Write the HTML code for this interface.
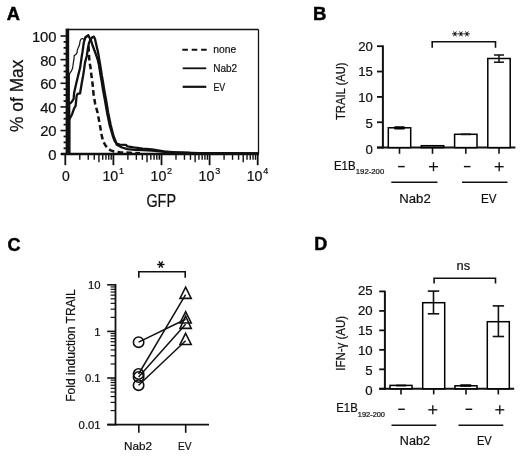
<!DOCTYPE html>
<html><head><meta charset="utf-8"><style>
html,body{margin:0;padding:0;background:#fff;width:520px;height:456px;overflow:hidden}
svg{display:block;will-change:transform}
text{font-family:"Liberation Sans", sans-serif;fill:#111;stroke:#111;stroke-width:0.22px}
line,polyline,polygon,circle{stroke:#111}
</style></head><body>
<svg width="520" height="456" viewBox="0 0 520 456">
<text x="6.80" y="19.60" font-size="17.5" text-anchor="start" font-weight="bold" textLength="13.2" lengthAdjust="spacingAndGlyphs"  style="stroke:#000;stroke-width:0.45px;fill:#000">A</text>
<line x1="67.50" y1="29.50" x2="258.50" y2="29.50" stroke-width="1.3" />
<line x1="258.50" y1="29.50" x2="258.50" y2="154.00" stroke-width="1.3" />
<line x1="67.40" y1="28.60" x2="67.40" y2="155.00" stroke-width="3.6" />
<line x1="61.00" y1="154.00" x2="259.00" y2="154.00" stroke-width="2.4" />
<line x1="60.50" y1="154.20" x2="67.50" y2="154.20" stroke-width="1.6" />
<text x="56.60" y="160.10" font-size="14.8" text-anchor="end" font-weight="normal" >0</text>
<line x1="60.50" y1="130.56" x2="67.50" y2="130.56" stroke-width="1.6" />
<text x="56.60" y="136.46" font-size="14.8" text-anchor="end" font-weight="normal" >20</text>
<line x1="60.50" y1="106.92" x2="67.50" y2="106.92" stroke-width="1.6" />
<text x="56.60" y="112.82" font-size="14.8" text-anchor="end" font-weight="normal" >40</text>
<line x1="60.50" y1="83.28" x2="67.50" y2="83.28" stroke-width="1.6" />
<text x="56.60" y="89.18" font-size="14.8" text-anchor="end" font-weight="normal" >60</text>
<line x1="60.50" y1="59.64" x2="67.50" y2="59.64" stroke-width="1.6" />
<text x="56.60" y="65.54" font-size="14.8" text-anchor="end" font-weight="normal" >80</text>
<line x1="60.50" y1="36.00" x2="67.50" y2="36.00" stroke-width="1.6" />
<text x="56.60" y="41.90" font-size="14.8" text-anchor="end" font-weight="normal" >100</text>
<line x1="63.60" y1="148.29" x2="67.50" y2="148.29" stroke-width="1.8" />
<line x1="63.60" y1="142.38" x2="67.50" y2="142.38" stroke-width="1.8" />
<line x1="63.60" y1="136.47" x2="67.50" y2="136.47" stroke-width="1.8" />
<line x1="63.60" y1="124.65" x2="67.50" y2="124.65" stroke-width="1.8" />
<line x1="63.60" y1="118.74" x2="67.50" y2="118.74" stroke-width="1.8" />
<line x1="63.60" y1="112.83" x2="67.50" y2="112.83" stroke-width="1.8" />
<line x1="63.60" y1="101.01" x2="67.50" y2="101.01" stroke-width="1.8" />
<line x1="63.60" y1="95.10" x2="67.50" y2="95.10" stroke-width="1.8" />
<line x1="63.60" y1="89.19" x2="67.50" y2="89.19" stroke-width="1.8" />
<line x1="63.60" y1="77.37" x2="67.50" y2="77.37" stroke-width="1.8" />
<line x1="63.60" y1="71.46" x2="67.50" y2="71.46" stroke-width="1.8" />
<line x1="63.60" y1="65.55" x2="67.50" y2="65.55" stroke-width="1.8" />
<line x1="63.60" y1="53.73" x2="67.50" y2="53.73" stroke-width="1.8" />
<line x1="63.60" y1="47.82" x2="67.50" y2="47.82" stroke-width="1.8" />
<line x1="63.60" y1="41.91" x2="67.50" y2="41.91" stroke-width="1.8" />
<line x1="65.30" y1="154.00" x2="65.30" y2="165.20" stroke-width="1.8" />
<line x1="79.78" y1="154.00" x2="79.78" y2="159.80" stroke-width="1.4" />
<line x1="88.25" y1="154.00" x2="88.25" y2="159.80" stroke-width="1.4" />
<line x1="94.26" y1="154.00" x2="94.26" y2="159.80" stroke-width="1.4" />
<line x1="98.92" y1="154.00" x2="98.92" y2="162.30" stroke-width="1.4" />
<line x1="102.73" y1="154.00" x2="102.73" y2="159.80" stroke-width="1.4" />
<line x1="105.95" y1="154.00" x2="105.95" y2="159.80" stroke-width="1.4" />
<line x1="108.74" y1="154.00" x2="108.74" y2="159.80" stroke-width="1.4" />
<line x1="111.20" y1="154.00" x2="111.20" y2="159.80" stroke-width="1.4" />
<line x1="113.40" y1="154.00" x2="113.40" y2="165.20" stroke-width="1.8" />
<line x1="127.88" y1="154.00" x2="127.88" y2="159.80" stroke-width="1.4" />
<line x1="136.35" y1="154.00" x2="136.35" y2="159.80" stroke-width="1.4" />
<line x1="142.36" y1="154.00" x2="142.36" y2="159.80" stroke-width="1.4" />
<line x1="147.02" y1="154.00" x2="147.02" y2="162.30" stroke-width="1.4" />
<line x1="150.83" y1="154.00" x2="150.83" y2="159.80" stroke-width="1.4" />
<line x1="154.05" y1="154.00" x2="154.05" y2="159.80" stroke-width="1.4" />
<line x1="156.84" y1="154.00" x2="156.84" y2="159.80" stroke-width="1.4" />
<line x1="159.30" y1="154.00" x2="159.30" y2="159.80" stroke-width="1.4" />
<line x1="161.50" y1="154.00" x2="161.50" y2="165.20" stroke-width="1.8" />
<line x1="175.98" y1="154.00" x2="175.98" y2="159.80" stroke-width="1.4" />
<line x1="184.45" y1="154.00" x2="184.45" y2="159.80" stroke-width="1.4" />
<line x1="190.46" y1="154.00" x2="190.46" y2="159.80" stroke-width="1.4" />
<line x1="195.12" y1="154.00" x2="195.12" y2="162.30" stroke-width="1.4" />
<line x1="198.93" y1="154.00" x2="198.93" y2="159.80" stroke-width="1.4" />
<line x1="202.15" y1="154.00" x2="202.15" y2="159.80" stroke-width="1.4" />
<line x1="204.94" y1="154.00" x2="204.94" y2="159.80" stroke-width="1.4" />
<line x1="207.40" y1="154.00" x2="207.40" y2="159.80" stroke-width="1.4" />
<line x1="209.60" y1="154.00" x2="209.60" y2="165.20" stroke-width="1.8" />
<line x1="224.08" y1="154.00" x2="224.08" y2="159.80" stroke-width="1.4" />
<line x1="232.55" y1="154.00" x2="232.55" y2="159.80" stroke-width="1.4" />
<line x1="238.56" y1="154.00" x2="238.56" y2="159.80" stroke-width="1.4" />
<line x1="243.22" y1="154.00" x2="243.22" y2="162.30" stroke-width="1.4" />
<line x1="247.03" y1="154.00" x2="247.03" y2="159.80" stroke-width="1.4" />
<line x1="250.25" y1="154.00" x2="250.25" y2="159.80" stroke-width="1.4" />
<line x1="253.04" y1="154.00" x2="253.04" y2="159.80" stroke-width="1.4" />
<line x1="255.50" y1="154.00" x2="255.50" y2="159.80" stroke-width="1.4" />
<line x1="257.70" y1="154.00" x2="257.70" y2="165.20" stroke-width="1.8" />
<text x="65.80" y="180.80" font-size="14" text-anchor="middle" font-weight="normal" >0</text>
<text x="102.40" y="181.00" font-size="14.2" text-anchor="start" font-weight="normal" >10</text>
<text x="119.00" y="173.60" font-size="9" text-anchor="start" font-weight="normal" >1</text>
<text x="150.50" y="181.00" font-size="14.2" text-anchor="start" font-weight="normal" >10</text>
<text x="167.10" y="173.60" font-size="9" text-anchor="start" font-weight="normal" >2</text>
<text x="198.60" y="181.00" font-size="14.2" text-anchor="start" font-weight="normal" >10</text>
<text x="215.20" y="173.60" font-size="9" text-anchor="start" font-weight="normal" >3</text>
<text x="246.70" y="181.00" font-size="14.2" text-anchor="start" font-weight="normal" >10</text>
<text x="263.30" y="173.60" font-size="9" text-anchor="start" font-weight="normal" >4</text>
<text x="146.40" y="207.40" font-size="18" text-anchor="start" font-weight="normal" textLength="29.6" lengthAdjust="spacingAndGlyphs" >GFP</text>
<text x="0" y="0" font-size="17.5" transform="translate(22.6,132.0) rotate(-90)" textLength="72.5" lengthAdjust="spacingAndGlyphs">% of Max</text>
<line x1="182.30" y1="49.80" x2="206.90" y2="49.80" stroke-width="2.0" stroke-dasharray="5.6 3.8"/>
<line x1="182.70" y1="68.30" x2="206.30" y2="68.30" stroke-width="1.8" />
<line x1="182.70" y1="86.80" x2="206.30" y2="86.80" stroke-width="2.2" />
<text x="213.20" y="52.90" font-size="11.5" text-anchor="start" font-weight="normal" textLength="23" lengthAdjust="spacingAndGlyphs" >none</text>
<text x="213.20" y="72.20" font-size="11.5" text-anchor="start" font-weight="normal" textLength="24" lengthAdjust="spacingAndGlyphs" >Nab2</text>
<text x="213.40" y="90.80" font-size="11.5" text-anchor="start" font-weight="normal" textLength="11.8" lengthAdjust="spacingAndGlyphs" >EV</text>
<polyline points="69.3,153.5 69.3,75.5 69.6,74.0 70.0,72.8 71.5,70.8 72.6,68.3 73.1,64.3 73.6,61.2 74.1,58.2 74.1,55.7 76.1,54.2 77.1,52.7 77.3,50.1 78.1,48.1 79.1,46.1 79.6,44.1 80.1,41.1 81.1,39.0 82.6,38.5 84.2,39.5 85.7,38.0 87.2,36.5 88.5,35.5 91.2,41.0 92.6,45.5 95.6,53.5 97.8,60.0 100.0,72.0 102.0,82.0" fill="none" stroke-width="1.2" stroke-linejoin="round" />
<polyline points="69.2,153.5 69.2,104.2 70.3,102.9 71.1,102.6 73.6,99.1 74.1,93.1 76.1,84.0 78.1,75.7 80.1,67.8 81.8,56.0 82.5,52.0 83.8,42.5 85.4,37.3 88.3,35.2 91.2,41.0 92.6,45.5 95.6,53.5 97.8,60.0 99.0,65.0 100.6,75.3 101.8,82.0 103.0,89.8 104.9,100.0 107.0,112.3 109.5,124.6 112.8,136.0 114.5,140.5 116.6,143.7 119.7,144.6 125.8,144.8 127.4,146.4 133.5,147.4 142.8,148.7 152.0,149.5 163.8,151.3 175.0,152.4 200.0,153.1 258.0,153.4" fill="none" stroke-width="2.3" stroke-linejoin="round" />
<polyline points="69.2,153.5 69.2,120.5 69.5,119.1 70.0,118.3 72.1,114.2 74.1,108.4 75.6,106.0 76.6,96.1 77.5,93.8 80.1,93.3 81.6,84.0 83.1,75.7 84.0,70.0 85.0,62.6 86.8,56.0 87.8,49.0 89.0,43.0 90.5,39.5 92.3,37.2 93.8,36.6 95.0,39.0 96.4,45.2 98.0,52.0 100.2,65.0 101.8,75.3 103.0,82.0 104.2,89.8 106.1,100.0 108.1,112.3 110.6,124.6 113.5,136.0 115.5,141.0 116.8,144.8 122.0,147.5 127.4,149.1 135.0,149.8 142.8,150.2 152.0,150.6 165.0,151.8 190.0,153.0 258.0,153.4" fill="none" stroke-width="2.3" stroke-linejoin="round" />
<polyline points="88.5,45.0 89.0,55.0 89.5,62.6 90.1,65.0 90.7,69.0 91.4,75.0 92.1,80.0 92.7,85.0 93.6,94.6 95.2,104.0 97.5,112.3 99.8,124.6 102.0,136.9 103.5,142.0 105.5,145.5 108.0,148.5 110.7,150.4 114.0,151.5 120.0,152.2 130.0,152.8 140.0,153.2" fill="none" stroke-width="2.5" stroke-linejoin="round" stroke-dasharray="5.6 3.3" stroke-dashoffset="-1"/>
<text x="313.00" y="20.40" font-size="17.5" text-anchor="start" font-weight="bold" textLength="13.4" lengthAdjust="spacingAndGlyphs"  style="stroke:#000;stroke-width:0.45px;fill:#000">B</text>
<line x1="382.90" y1="45.40" x2="382.90" y2="148.50" stroke-width="2.0" />
<line x1="377.00" y1="147.60" x2="515.40" y2="147.60" stroke-width="2.0" />
<line x1="377.00" y1="147.60" x2="382.90" y2="147.60" stroke-width="1.8" />
<text x="372.90" y="153.65" font-size="13.2" text-anchor="end" font-weight="normal" >0</text>
<line x1="377.00" y1="122.25" x2="382.90" y2="122.25" stroke-width="1.8" />
<text x="372.90" y="128.45" font-size="13.2" text-anchor="end" font-weight="normal" >5</text>
<line x1="377.00" y1="96.90" x2="382.90" y2="96.90" stroke-width="1.8" />
<text x="372.90" y="102.05" font-size="13.2" text-anchor="end" font-weight="normal" >10</text>
<line x1="377.00" y1="71.55" x2="382.90" y2="71.55" stroke-width="1.8" />
<text x="372.90" y="76.35" font-size="13.2" text-anchor="end" font-weight="normal" >15</text>
<line x1="377.00" y1="46.20" x2="382.90" y2="46.20" stroke-width="1.8" />
<text x="372.90" y="50.75" font-size="13.2" text-anchor="end" font-weight="normal" >20</text>
<text x="0" y="0" font-size="12" transform="translate(345.1,120.0) rotate(-90)" textLength="57.6" lengthAdjust="spacingAndGlyphs">TRAIL (AU)</text>
<rect x="388.30" y="127.80" width="22.4" height="19.80" fill="#fff" stroke="#000" stroke-width="1.5"/>
<line x1="399.50" y1="147.60" x2="399.50" y2="153.80" stroke-width="1.6" />
<rect x="421.30" y="145.70" width="22.4" height="1.90" fill="#999" stroke="#000" stroke-width="1.5"/>
<line x1="432.50" y1="147.60" x2="432.50" y2="153.80" stroke-width="1.6" />
<rect x="454.60" y="134.30" width="22.4" height="13.30" fill="#fff" stroke="#000" stroke-width="1.5"/>
<line x1="465.80" y1="147.60" x2="465.80" y2="153.80" stroke-width="1.6" />
<rect x="487.80" y="58.50" width="22.4" height="89.10" fill="#fff" stroke="#000" stroke-width="1.5"/>
<line x1="499.00" y1="147.60" x2="499.00" y2="153.80" stroke-width="1.6" />
<rect x="394" y="126.3" width="11" height="3.2" rx="1.2" fill="#000"/>
<line x1="499.00" y1="55.00" x2="499.00" y2="62.20" stroke-width="1.5" />
<line x1="494.00" y1="55.00" x2="504.00" y2="55.00" stroke-width="1.5" />
<line x1="494.00" y1="62.20" x2="504.00" y2="62.20" stroke-width="1.5" />
<line x1="460.80" y1="134.30" x2="470.80" y2="134.30" stroke-width="1.8" />
<polyline points="432.2,47.7 432.2,41.8 495.5,41.8 495.5,47.7" fill="none" stroke-width="1.6"/>
<line x1="452.10" y1="33.90" x2="457.70" y2="33.90" stroke-width="1.0" />
<line x1="453.50" y1="31.48" x2="456.30" y2="36.32" stroke-width="1.0" />
<line x1="456.30" y1="31.48" x2="453.50" y2="36.32" stroke-width="1.0" />
<line x1="458.10" y1="33.90" x2="463.70" y2="33.90" stroke-width="1.0" />
<line x1="459.50" y1="31.48" x2="462.30" y2="36.32" stroke-width="1.0" />
<line x1="462.30" y1="31.48" x2="459.50" y2="36.32" stroke-width="1.0" />
<line x1="464.10" y1="33.90" x2="469.70" y2="33.90" stroke-width="1.0" />
<line x1="465.50" y1="31.48" x2="468.30" y2="36.32" stroke-width="1.0" />
<line x1="468.30" y1="31.48" x2="465.50" y2="36.32" stroke-width="1.0" />
<line x1="398.10" y1="166.60" x2="404.70" y2="166.60" stroke-width="1.45" />
<line x1="463.90" y1="166.60" x2="470.50" y2="166.60" stroke-width="1.45" />
<line x1="429.00" y1="166.70" x2="438.00" y2="166.70" stroke-width="1.35" />
<line x1="433.50" y1="162.20" x2="433.50" y2="171.20" stroke-width="1.35" />
<line x1="494.70" y1="166.70" x2="503.70" y2="166.70" stroke-width="1.35" />
<line x1="499.20" y1="162.20" x2="499.20" y2="171.20" stroke-width="1.35" />
<text x="334.00" y="169.70" font-size="12" text-anchor="start" font-weight="normal" textLength="21.6" lengthAdjust="spacingAndGlyphs" >E1B</text>
<text x="355.80" y="174.40" font-size="7.7" text-anchor="start" font-weight="normal" textLength="28.4" lengthAdjust="spacingAndGlyphs" >192-200</text>
<line x1="391.30" y1="182.20" x2="437.50" y2="182.20" stroke-width="1.6" />
<line x1="462.00" y1="182.20" x2="507.50" y2="182.20" stroke-width="1.6" />
<text x="399.30" y="203.00" font-size="13.2" text-anchor="start" font-weight="normal" textLength="31.4" lengthAdjust="spacingAndGlyphs" >Nab2</text>
<text x="481.00" y="203.00" font-size="13.2" text-anchor="start" font-weight="normal" textLength="15.5" lengthAdjust="spacingAndGlyphs" >EV</text>
<text x="7.60" y="250.50" font-size="17.5" text-anchor="start" font-weight="bold" textLength="13.0" lengthAdjust="spacingAndGlyphs"  style="stroke:#000;stroke-width:0.45px;fill:#000">C</text>
<line x1="115.50" y1="284.00" x2="115.50" y2="425.50" stroke-width="1.8" />
<line x1="107.20" y1="424.70" x2="209.00" y2="424.70" stroke-width="1.8" />
<line x1="107.20" y1="424.60" x2="115.50" y2="424.60" stroke-width="1.6" />
<text x="100.60" y="428.70" font-size="11.3" text-anchor="end" font-weight="normal" >0.01</text>
<line x1="110.60" y1="410.57" x2="115.50" y2="410.57" stroke-width="1.2" />
<line x1="110.60" y1="402.37" x2="115.50" y2="402.37" stroke-width="1.2" />
<line x1="110.60" y1="396.54" x2="115.50" y2="396.54" stroke-width="1.2" />
<line x1="110.60" y1="392.03" x2="115.50" y2="392.03" stroke-width="1.2" />
<line x1="110.60" y1="388.34" x2="115.50" y2="388.34" stroke-width="1.2" />
<line x1="110.60" y1="385.22" x2="115.50" y2="385.22" stroke-width="1.2" />
<line x1="110.60" y1="382.52" x2="115.50" y2="382.52" stroke-width="1.2" />
<line x1="110.60" y1="380.13" x2="115.50" y2="380.13" stroke-width="1.2" />
<line x1="107.20" y1="378.00" x2="115.50" y2="378.00" stroke-width="1.6" />
<text x="100.60" y="382.10" font-size="11.3" text-anchor="end" font-weight="normal" >0.1</text>
<line x1="110.60" y1="363.97" x2="115.50" y2="363.97" stroke-width="1.2" />
<line x1="110.60" y1="355.77" x2="115.50" y2="355.77" stroke-width="1.2" />
<line x1="110.60" y1="349.94" x2="115.50" y2="349.94" stroke-width="1.2" />
<line x1="110.60" y1="345.43" x2="115.50" y2="345.43" stroke-width="1.2" />
<line x1="110.60" y1="341.74" x2="115.50" y2="341.74" stroke-width="1.2" />
<line x1="110.60" y1="338.62" x2="115.50" y2="338.62" stroke-width="1.2" />
<line x1="110.60" y1="335.92" x2="115.50" y2="335.92" stroke-width="1.2" />
<line x1="110.60" y1="333.53" x2="115.50" y2="333.53" stroke-width="1.2" />
<line x1="107.20" y1="331.40" x2="115.50" y2="331.40" stroke-width="1.6" />
<text x="100.60" y="335.50" font-size="11.3" text-anchor="end" font-weight="normal" >1</text>
<line x1="110.60" y1="317.37" x2="115.50" y2="317.37" stroke-width="1.2" />
<line x1="110.60" y1="309.17" x2="115.50" y2="309.17" stroke-width="1.2" />
<line x1="110.60" y1="303.34" x2="115.50" y2="303.34" stroke-width="1.2" />
<line x1="110.60" y1="298.83" x2="115.50" y2="298.83" stroke-width="1.2" />
<line x1="110.60" y1="295.14" x2="115.50" y2="295.14" stroke-width="1.2" />
<line x1="110.60" y1="292.02" x2="115.50" y2="292.02" stroke-width="1.2" />
<line x1="110.60" y1="289.32" x2="115.50" y2="289.32" stroke-width="1.2" />
<line x1="110.60" y1="286.93" x2="115.50" y2="286.93" stroke-width="1.2" />
<line x1="107.20" y1="284.80" x2="115.50" y2="284.80" stroke-width="1.6" />
<text x="100.60" y="288.90" font-size="11.3" text-anchor="end" font-weight="normal" >10</text>
<text x="0" y="0" font-size="12" transform="translate(74.8,401.8) rotate(-90)" textLength="112.6" lengthAdjust="spacingAndGlyphs">Fold induction TRAIL</text>
<line x1="138.80" y1="424.70" x2="138.80" y2="432.80" stroke-width="1.6" />
<line x1="185.70" y1="424.70" x2="185.70" y2="432.80" stroke-width="1.6" />
<text x="124.00" y="450.30" font-size="11.8" text-anchor="start" font-weight="normal" textLength="28" lengthAdjust="spacingAndGlyphs" >Nab2</text>
<text x="178.00" y="450.30" font-size="11.8" text-anchor="start" font-weight="normal" textLength="13.6" lengthAdjust="spacingAndGlyphs" >EV</text>
<polyline points="138.8,277.7 138.8,271.8 185.2,271.8 185.2,277.7" fill="none" stroke-width="1.6"/>
<line x1="157.10" y1="264.50" x2="164.50" y2="264.50" stroke-width="1.4" />
<line x1="158.95" y1="261.30" x2="162.65" y2="267.70" stroke-width="1.4" />
<line x1="162.65" y1="261.30" x2="158.95" y2="267.70" stroke-width="1.4" />
<line x1="138.60" y1="342.20" x2="185.60" y2="319.23" stroke-width="1.5" />
<line x1="138.60" y1="374.00" x2="185.60" y2="294.67" stroke-width="1.5" />
<line x1="138.60" y1="377.00" x2="185.60" y2="324.27" stroke-width="1.5" />
<line x1="138.60" y1="385.20" x2="185.60" y2="340.77" stroke-width="1.5" />
<circle cx="138.6" cy="342.2" r="5.2" fill="none" stroke-width="1.6"/>
<circle cx="138.6" cy="374.0" r="5.2" fill="none" stroke-width="1.6"/>
<circle cx="138.6" cy="377.0" r="5.2" fill="none" stroke-width="1.6"/>
<circle cx="138.6" cy="385.2" r="5.2" fill="none" stroke-width="1.6"/>
<polygon points="185.6,311.7 191.2,323.0 180.0,323.0" fill="none" stroke-width="1.6" stroke-linejoin="miter"/>
<polygon points="185.6,287.2 191.2,298.4 180.0,298.4" fill="none" stroke-width="1.6" stroke-linejoin="miter"/>
<polygon points="185.6,316.0 191.2,328.4 180.0,328.4" fill="none" stroke-width="1.6" stroke-linejoin="miter"/>
<polygon points="185.6,333.3 191.2,344.5 180.0,344.5" fill="none" stroke-width="1.6" stroke-linejoin="miter"/>
<text x="314.20" y="250.40" font-size="17.5" text-anchor="start" font-weight="bold" textLength="13.0" lengthAdjust="spacingAndGlyphs"  style="stroke:#000;stroke-width:0.45px;fill:#000">D</text>
<line x1="384.90" y1="290.80" x2="384.90" y2="389.80" stroke-width="2.0" />
<line x1="379.20" y1="388.80" x2="514.20" y2="388.80" stroke-width="2.0" />
<line x1="379.20" y1="388.80" x2="384.90" y2="388.80" stroke-width="1.8" />
<text x="372.70" y="394.60" font-size="13.2" text-anchor="end" font-weight="normal" >0</text>
<line x1="379.20" y1="369.32" x2="384.90" y2="369.32" stroke-width="1.8" />
<text x="372.70" y="374.90" font-size="13.2" text-anchor="end" font-weight="normal" >5</text>
<line x1="379.20" y1="349.84" x2="384.90" y2="349.84" stroke-width="1.8" />
<text x="372.70" y="354.90" font-size="13.2" text-anchor="end" font-weight="normal" >10</text>
<line x1="379.20" y1="330.36" x2="384.90" y2="330.36" stroke-width="1.8" />
<text x="372.70" y="334.90" font-size="13.2" text-anchor="end" font-weight="normal" >15</text>
<line x1="379.20" y1="310.88" x2="384.90" y2="310.88" stroke-width="1.8" />
<text x="372.70" y="314.90" font-size="13.2" text-anchor="end" font-weight="normal" >20</text>
<line x1="379.20" y1="291.40" x2="384.90" y2="291.40" stroke-width="1.8" />
<text x="372.70" y="294.50" font-size="13.2" text-anchor="end" font-weight="normal" >25</text>
<text x="0" y="0" font-size="12" transform="translate(345.2,370.8) rotate(-90)" textLength="55" lengthAdjust="spacingAndGlyphs">IFN-γ (AU)</text>
<rect x="390.00" y="385.40" width="22" height="3.40" fill="#fff" stroke="#000" stroke-width="1.5"/>
<line x1="401.00" y1="388.80" x2="401.00" y2="394.40" stroke-width="1.6" />
<rect x="422.70" y="302.70" width="22" height="86.10" fill="#fff" stroke="#000" stroke-width="1.5"/>
<line x1="433.70" y1="388.80" x2="433.70" y2="394.40" stroke-width="1.6" />
<rect x="455.00" y="385.80" width="22" height="3.00" fill="#fff" stroke="#000" stroke-width="1.5"/>
<line x1="466.00" y1="388.80" x2="466.00" y2="394.40" stroke-width="1.6" />
<rect x="487.30" y="321.70" width="22" height="67.10" fill="#fff" stroke="#000" stroke-width="1.5"/>
<line x1="498.30" y1="388.80" x2="498.30" y2="394.40" stroke-width="1.6" />
<line x1="433.50" y1="291.10" x2="433.50" y2="313.80" stroke-width="1.6" />
<line x1="427.80" y1="291.10" x2="439.20" y2="291.10" stroke-width="1.6" />
<line x1="427.80" y1="313.80" x2="439.20" y2="313.80" stroke-width="1.6" />
<line x1="498.40" y1="305.90" x2="498.40" y2="336.50" stroke-width="1.6" />
<line x1="492.70" y1="305.90" x2="504.10" y2="305.90" stroke-width="1.6" />
<line x1="492.70" y1="336.50" x2="504.10" y2="336.50" stroke-width="1.6" />
<rect x="396" y="384.6" width="10" height="1.8" fill="#000"/>
<rect x="460" y="384.2" width="11.5" height="2.6" rx="1" fill="#000"/>
<polyline points="434.1,283.6 434.1,278.3 495.5,278.3 495.5,283.6" fill="none" stroke-width="1.6"/>
<text x="463.30" y="270.40" font-size="12.8" text-anchor="middle" font-weight="normal" >ns</text>
<line x1="398.20" y1="409.30" x2="404.80" y2="409.30" stroke-width="1.45" />
<line x1="465.60" y1="409.30" x2="472.20" y2="409.30" stroke-width="1.45" />
<line x1="428.30" y1="409.80" x2="437.30" y2="409.80" stroke-width="1.35" />
<line x1="432.80" y1="405.30" x2="432.80" y2="414.30" stroke-width="1.35" />
<line x1="495.30" y1="409.80" x2="504.30" y2="409.80" stroke-width="1.35" />
<line x1="499.80" y1="405.30" x2="499.80" y2="414.30" stroke-width="1.35" />
<text x="336.30" y="412.30" font-size="12.2" text-anchor="start" font-weight="normal" textLength="21.4" lengthAdjust="spacingAndGlyphs" >E1B</text>
<text x="357.80" y="416.60" font-size="7.6" text-anchor="start" font-weight="normal" textLength="27.2" lengthAdjust="spacingAndGlyphs" >192-200</text>
<line x1="391.50" y1="425.20" x2="436.30" y2="425.20" stroke-width="1.6" />
<line x1="458.50" y1="425.20" x2="503.30" y2="425.20" stroke-width="1.6" />
<text x="399.80" y="444.60" font-size="13" text-anchor="start" font-weight="normal" textLength="30.2" lengthAdjust="spacingAndGlyphs" >Nab2</text>
<text x="476.90" y="444.60" font-size="13" text-anchor="start" font-weight="normal" textLength="14.8" lengthAdjust="spacingAndGlyphs" >EV</text>
</svg>
</body></html>
